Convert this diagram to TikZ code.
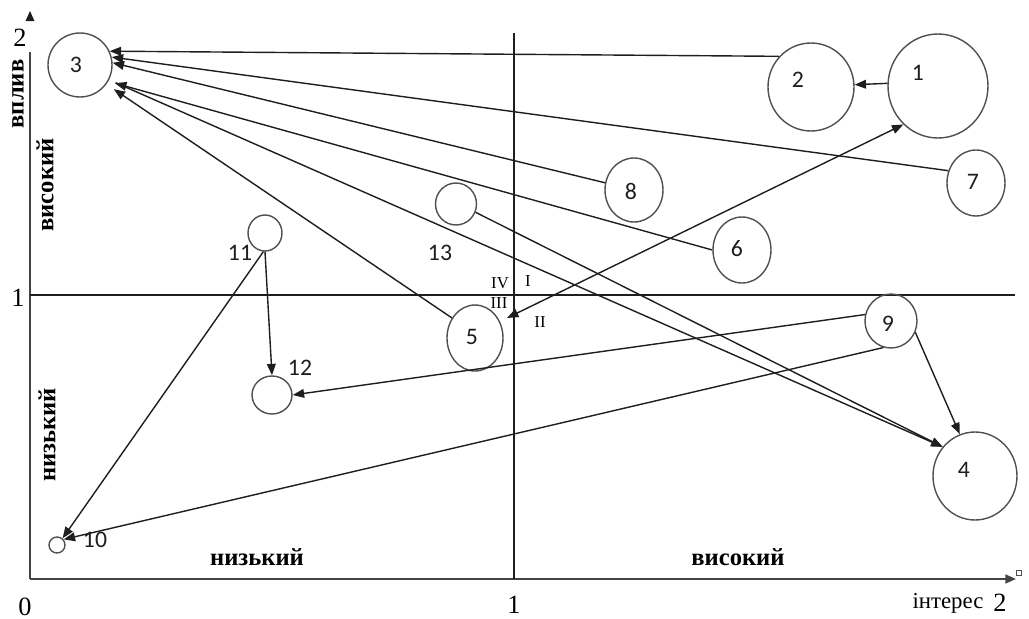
\documentclass[tikz,border=0pt]{standalone}
\usepackage{fontspec}
\setmainfont{Liberation Serif}
\newfontfamily\numfont{Carlito}
\usetikzlibrary{arrows.meta,shapes.geometric}
\definecolor{ink}{HTML}{1E1E1E}
\definecolor{rim}{HTML}{505050}
\definecolor{axisgray}{HTML}{444444}
\tikzset{
  ring/.style 2 args={ellipse,draw=rim,line width=0.8pt,inner sep=0pt,minimum width=#1*0.02cm,minimum height=#2*0.02cm},
  tag/.style={font=\numfont\fontsize{13.5}{15}\selectfont,text=ink},
  link/.style={ink,line width=0.8pt,-{Triangle[length=6.5pt,width=5pt]}},
  zone/.style={font=\bfseries\fontsize{14}{16}\selectfont},
  tick/.style={font=\fontsize{15}{17}\selectfont},
  quad/.style={font=\fontsize{9.5}{11}\selectfont},
}

\begin{document}
\begin{tikzpicture}[x=0.02cm,y=-0.02cm]
\useasboundingbox (0,0) rectangle (1029,619);
\draw[axisgray,line width=1.1pt] (30,579) -- (30,52);
\fill[ink] (30,11) -- (34.5,21) -- (25.5,21) -- cycle;
\draw[axisgray,line width=1.1pt,-{Triangle[length=6pt,width=5pt]}] (30,579) -- (1016,579);
\draw[rim,line width=0.4pt] (1016,570) rectangle (1021,575);
\draw[ink,line width=0.8pt] (30,295) -- (1015,295);
\draw[ink,line width=0.8pt] (514,33) -- (514,579);

\node[tick] at (20,38) {2};
\node[tick] at (18,298) {1};
\node[tick] at (25,607) {0};
\node[tick] at (514,605) {1};
\node[tick] at (1000,603) {2};
\node[font=\fontsize{13}{15}\selectfont] at (948,603) {інтерес};
\node[zone,rotate=90] at (18,94) {вплив};
\node[zone,rotate=90] at (45,185) {високий};
\node[zone,rotate=90] at (47,435) {низький};
\node[zone] at (257,557) {низький};
\node[zone] at (738,557) {високий};
\node[quad] at (500,283) {IV};
\node[quad] at (528,281) {I};
\node[quad] at (499,303) {III};
\node[quad] at (540,322) {II};

\node[ring={64}{64}] (n3) at (80,65) {};
\node[ring={86}{88}] (n2) at (811,87) {};
\node[ring={100}{104}] (n1) at (938,86) {};
\node[ring={58}{66}] (n7) at (976,183) {};
\node[ring={58}{64}] (n8) at (634,190) {};
\node[ring={58}{66}] (n6) at (742,250) {};
\node[ring={52}{54}] (n9) at (891,321) {};
\node[ring={84}{88}] (n4) at (975,476) {};
\node[ring={56}{66}] (n5) at (475,338) {};
\node[ring={41}{42}] (n13) at (456,204) {};
\node[ring={34}{36}] (n11) at (265,233) {};
\node[ring={40}{38}] (n12) at (272,395) {};
\node[ring={16}{16}] (n10) at (57,545) {};
\coordinate (q3) at (507,318);

\node[tag] at (76,65) {3};
\node[tag] at (798,80) {2};
\node[tag] at (918,73) {1};
\node[tag] at (973,182) {7};
\node[tag] at (631,191) {8};
\node[tag] at (737,249) {6};
\node[tag] at (888,324) {9};
\node[tag] at (964,470) {4};
\node[tag] at (472,337) {5};
\node[tag] at (440,253) {13};
\node[tag] at (240,253) {11};
\node[tag] at (300,368) {12};
\node[tag] at (95,540) {10};

\draw[link] (n2.136) -- (n3.25);
\draw[link] (n7.156) -- (n3.14);
\draw[link] (n8.166) -- (n3.4);
\draw[link,shorten >=4pt] (n6.west) -- (n3.-30);
\draw[link,shorten >=5pt] (n5.139) -- (n3.-36);
\draw[link,shorten <=4pt] (n3.-27) -- (n4.138);
\draw[link] (n13.-23) -- (n4.138);
\draw[link] (n1.177) -- (n2.3);
\draw[link,{Triangle[length=6.5pt,width=5pt]}-{Triangle[length=6.5pt,width=5pt]}] (q3) -- (n1.228);
\draw[link] (n9.-25) -- (n4.110);
\draw[link] (n9.166) -- (n12.east);
\draw[link] (n9.-106) -- (n10.40);
\draw[link] (n11.south) -- (n12.north);
\draw[link] (n11.-95) -- (n10.50);
\end{tikzpicture}
\end{document}
